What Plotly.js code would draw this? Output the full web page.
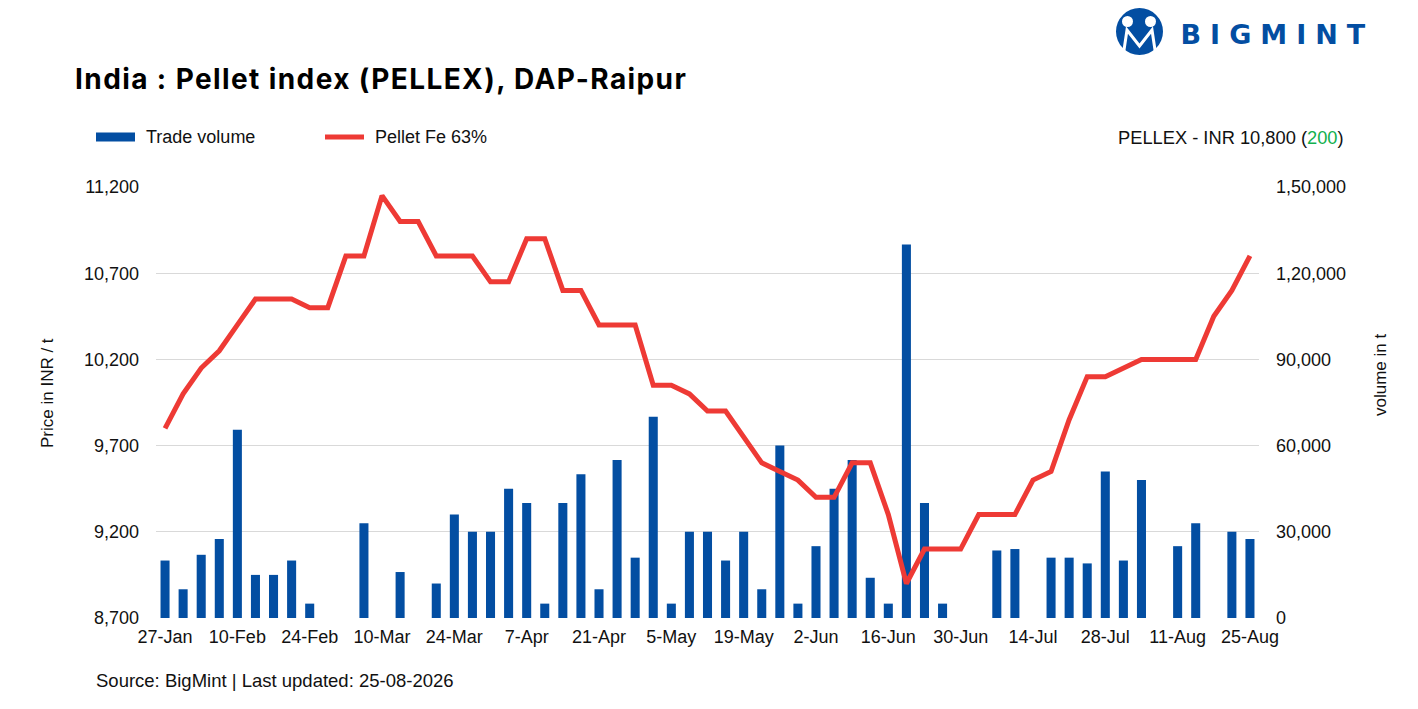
<!DOCTYPE html>
<html>
<head>
<meta charset="utf-8">
<script src="https://cdn.plot.ly/plotly-3.0.1.min.js"></script>
<style>
  html, body { margin: 0; padding: 0; background: #ffffff; }
  #chart { width: 1418px; height: 709px; }
  .annotation[data-index="0"] text { letter-spacing: 9px; }
  .annotation[data-index="1"] text { letter-spacing: 1.4px; }
</style>
</head>
<body>
<div id="chart"></div>
<script>
// ---------------- DATA ----------------
const dates = [
  '27-Jan','30-Jan','3-Feb','6-Feb','10-Feb','13-Feb','17-Feb','20-Feb','24-Feb','27-Feb',
  '3-Mar','6-Mar','10-Mar','13-Mar','17-Mar','20-Mar','24-Mar','27-Mar','31-Mar','3-Apr',
  '7-Apr','10-Apr','14-Apr','17-Apr','21-Apr','24-Apr','28-Apr','1-May','5-May','8-May',
  '12-May','15-May','19-May','22-May','26-May','29-May','2-Jun','5-Jun','9-Jun','12-Jun',
  '16-Jun','19-Jun','23-Jun','26-Jun','30-Jun','3-Jul','7-Jul','10-Jul','14-Jul','17-Jul',
  '21-Jul','24-Jul','28-Jul','31-Jul','4-Aug','7-Aug','11-Aug','14-Aug','18-Aug','21-Aug',
  '25-Aug'
];

const tradeVolume = [
  20000, 10000, 22000, 27500, 65500, 15000, 15000, 20000, 5000, 0,
  0, 33000, 0, 16000, 0, 12000, 36000, 30000, 30000, 45000,
  40000, 5000, 40000, 50000, 10000, 55000, 21000, 70000, 5000, 30000,
  30000, 20000, 30000, 10000, 60000, 5000, 25000, 45000, 55000, 14000,
  5000, 130000, 40000, 5000, 0, 0, 23500, 24000, 0, 21000,
  21000, 19000, 51000, 20000, 48000, 0, 25000, 33000, 0, 30000,
  27500
];

const pelletFe63 = [
  9800, 10000, 10150, 10250, 10400, 10550, 10550, 10550, 10500, 10500,
  10800, 10800, 11150, 11000, 11000, 10800, 10800, 10800, 10650, 10650,
  10900, 10900, 10600, 10600, 10400, 10400, 10400, 10050, 10050, 10000,
  9900, 9900, 9750, 9600, 9550, 9500, 9400, 9400, 9600, 9600,
  9300, 8900, 9100, 9100, 9100, 9300, 9300, 9300, 9500, 9550,
  9850, 10100, 10100, 10150, 10200, 10200, 10200, 10200, 10450, 10600,
  10800
];

const xTickLabels = ['27-Jan','10-Feb','24-Feb','10-Mar','24-Mar','7-Apr','21-Apr','5-May',
  '19-May','2-Jun','16-Jun','30-Jun','14-Jul','28-Jul','11-Aug','25-Aug'];

const priceTicks = [8700, 9200, 9700, 10200, 10700, 11200];
const volumeTicks = [0, 30000, 60000, 90000, 120000, 150000];
const volumeTickLabels = ['0', '30,000', '60,000', '90,000', '1,20,000', '1,50,000'];

// ---------------- LAYOUT GEOMETRY ----------------
const W = 1418, H = 709;
const M = { l: 156, r: 159, t: 187, b: 91 };
const PW = W - M.l - M.r, PH = H - M.t - M.b;
const px = x => (x - M.l) / PW;
const py = y => (H - M.b - y) / PH;

const BLUE = '#034ea2';
const RED = '#ee3a35';
const TXT = '#111111';
const FONT = 'Liberation Sans, Arial, sans-serif';

const traces = [
  {
    type: 'bar',
    name: 'Trade volume',
    x: dates,
    y: tradeVolume,
    yaxis: 'y',
    marker: { color: BLUE },
    hoverinfo: 'x+y',
    showlegend: false
  },
  {
    type: 'scatter',
    mode: 'lines',
    name: 'Pellet Fe 63%',
    x: dates,
    y: pelletFe63,
    yaxis: 'y2',
    line: { color: RED, width: 5, shape: 'linear' },
    showlegend: false
  }
];

const layout = {
  width: W,
  height: H,
  margin: M,
  paper_bgcolor: '#ffffff',
  plot_bgcolor: '#ffffff',
  bargap: 0.5,
  font: { family: FONT, size: 18, color: TXT },
  showlegend: false,
  xaxis: {
    type: 'category',
    categoryorder: 'array',
    categoryarray: dates,
    range: [-0.5, dates.length - 0.5],
    tickmode: 'array',
    tickvals: xTickLabels,
    ticktext: xTickLabels,
    showgrid: false,
    showline: false,
    zeroline: false,
    ticks: '',
    ticklabelstandoff: 6,
    tickfont: { family: FONT, size: 18, color: TXT },
    fixedrange: true
  },
  yaxis: {
    side: 'right',
    range: [0, 150000],
    tickmode: 'array',
    tickvals: volumeTicks,
    ticktext: volumeTickLabels,
    showgrid: true,
    gridcolor: '#d9d9d9',
    gridwidth: 1,
    zeroline: false,
    showline: false,
    ticks: '',
    ticklabelstandoff: 16,
    tickfont: { family: FONT, size: 18, color: TXT },
    fixedrange: true
  },
  yaxis2: {
    side: 'left',
    overlaying: 'y',
    range: [8700, 11200],
    tickmode: 'array',
    tickvals: priceTicks,
    tickformat: ',',
    showgrid: false,
    zeroline: false,
    showline: false,
    ticks: '',
    ticklabelstandoff: 16,
    tickfont: { family: FONT, size: 18, color: TXT },
    fixedrange: true
  },
  shapes: [
    // logo circle
    { type: 'circle', xref: 'paper', yref: 'paper', x0: px(1116), x1: px(1163), y0: py(55), y1: py(8),
      fillcolor: BLUE, line: { width: 0 } },
    { type: 'circle', xref: 'paper', yref: 'paper', x0: px(1122), x1: px(1133), y0: py(27), y1: py(16),
      fillcolor: '#ffffff', line: { width: 0 } },
    { type: 'circle', xref: 'paper', yref: 'paper', x0: px(1145), x1: px(1156), y0: py(27), y1: py(16),
      fillcolor: '#ffffff', line: { width: 0 } },
    { type: 'path', xref: 'paper', yref: 'paper',
      path: 'M ' + px(1124) + ' ' + py(50) + ' L ' + px(1127) + ' ' + py(30) + ' L ' + px(1139.5) + ' ' + py(46) +
            ' L ' + px(1152) + ' ' + py(30) + ' L ' + px(1155) + ' ' + py(50),
      line: { color: '#ffffff', width: 3 } },
    // legend: bar swatch
    { type: 'rect', xref: 'paper', yref: 'paper', x0: px(96), x1: px(135), y0: py(141.5), y1: py(132.5),
      fillcolor: BLUE, line: { width: 0 } },
    // legend: line swatch
    { type: 'line', xref: 'paper', yref: 'paper', x0: px(325), x1: px(364), y0: py(137), y1: py(137),
      line: { color: RED, width: 5 } }
  ],
  annotations: [
    { text: '<b>BIGMINT</b>', xref: 'paper', yref: 'paper', x: px(1277), y: py(35),
      xanchor: 'center', yanchor: 'middle', showarrow: false,
      font: { family: 'DejaVu Sans, sans-serif', size: 27, color: BLUE } },
    { text: '<b>India : Pellet index (PELLEX), DAP-Raipur</b>', xref: 'paper', yref: 'paper',
      x: px(102), y: py(79), xanchor: 'left', yanchor: 'middle', showarrow: false,
      font: { family: 'Inter, Liberation Sans, sans-serif', size: 28, color: '#000000' } },
    { text: 'Trade volume', xref: 'paper', yref: 'paper', x: px(144), y: py(137),
      xanchor: 'left', yanchor: 'middle', showarrow: false, font: { size: 18, color: TXT } },
    { text: 'Pellet Fe 63%', xref: 'paper', yref: 'paper', x: px(373), y: py(137),
      xanchor: 'left', yanchor: 'middle', showarrow: false, font: { size: 18, color: TXT } },
    { text: 'PELLEX - INR 10,800 (<span style="color:#12b04e">200</span>)', xref: 'paper', yref: 'paper',
      x: px(1346), y: py(137), xanchor: 'right', yanchor: 'middle', showarrow: false,
      font: { size: 18.3, color: TXT } },
    { text: 'Price in INR / t', xref: 'paper', yref: 'paper', x: px(47), y: py(393),
      xanchor: 'center', yanchor: 'middle', textangle: -90, showarrow: false,
      font: { size: 17, color: TXT } },
    { text: 'volume in t', xref: 'paper', yref: 'paper', x: px(1380), y: py(375),
      xanchor: 'center', yanchor: 'middle', textangle: -90, showarrow: false,
      font: { size: 17, color: TXT } },
    { text: 'Source: BigMint | Last updated: 25-08-2026', xref: 'paper', yref: 'paper',
      x: px(94), y: py(680), xanchor: 'left', yanchor: 'middle', showarrow: false,
      font: { size: 18.5, color: TXT } }
  ]
};

Plotly.newPlot('chart', traces, layout, { displayModeBar: false, staticPlot: true });
</script>
</body>
</html>
